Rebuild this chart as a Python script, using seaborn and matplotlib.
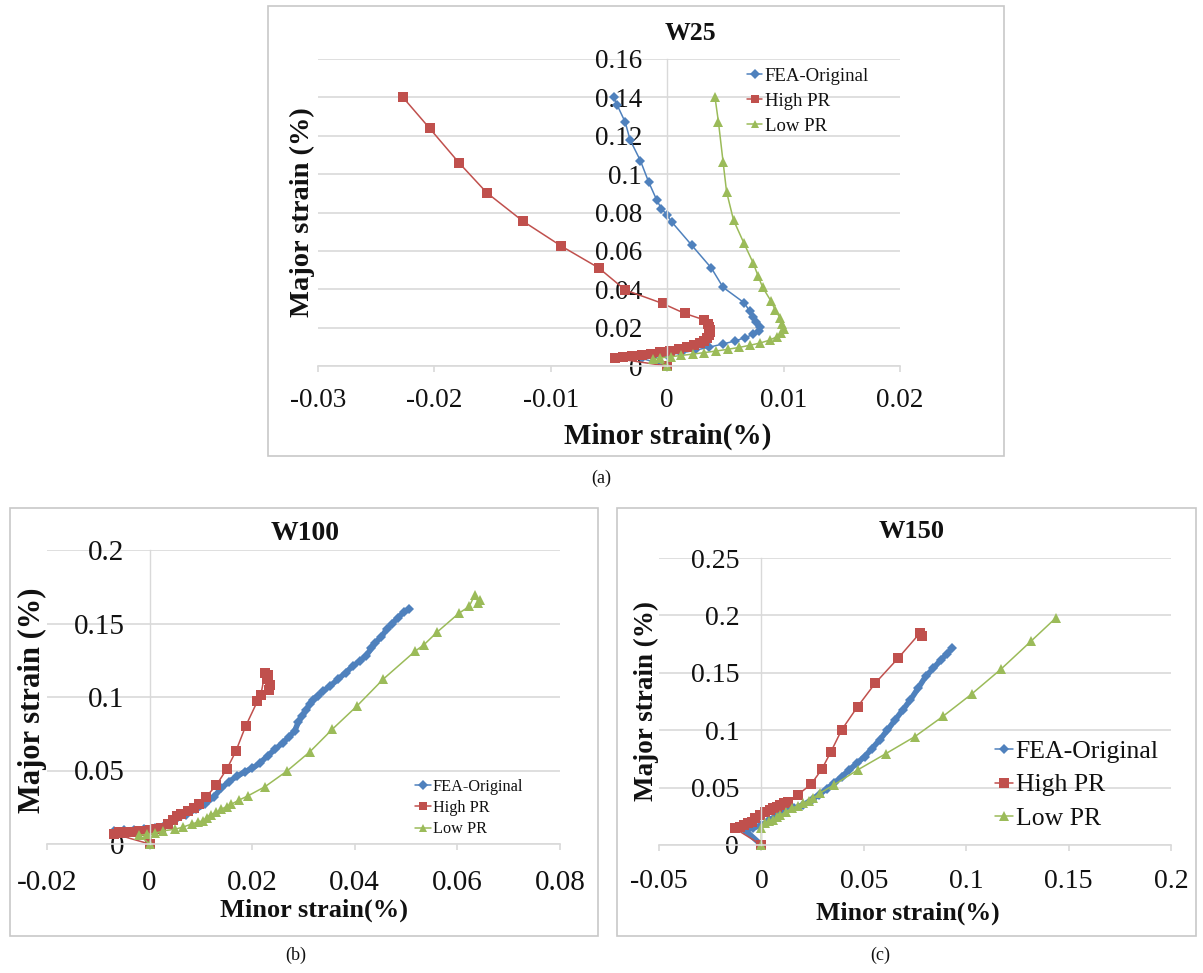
import numpy as np
import pandas as pd
import matplotlib
matplotlib.use("Agg")
import matplotlib.pyplot as plt
from matplotlib.patches import Rectangle
import seaborn as sns

# ---------------- data ----------------
series_names = ["FEA-Original", "High PR", "Low PR"]

# Panel (a) W25
a_fea_x = [0, -0.0022, -0.0012, 0.0, 0.0012, 0.0024, 0.0036, 0.0048, 0.0058, 0.0067, 0.0074, 0.0079, 0.0080,
           0.0076, 0.0074, 0.0071, 0.0066, 0.0048, 0.0038, 0.0021, 0.0004, 0.0, -0.0005, -0.0009, -0.0016,
           -0.0023, -0.0032, -0.0036, -0.0043, -0.0046]
a_fea_y = [0, 0.0040, 0.0048, 0.0058, 0.0068, 0.0082, 0.0098, 0.0115, 0.0130, 0.0148, 0.0165, 0.0185, 0.0205,
           0.0228, 0.0255, 0.0285, 0.0330, 0.0410, 0.0510, 0.0630, 0.0750, 0.0787, 0.0820, 0.0865, 0.0960,
           0.1070, 0.1180, 0.1270, 0.1360, 0.1400]
a_high_x = [0, -0.0045, -0.0038, -0.0030, -0.0022, -0.0014, -0.0006, 0.0002, 0.0010, 0.0017, 0.0023, 0.0028,
            0.0032, 0.0034, 0.0036, 0.0037, 0.0037, 0.0036, 0.0035, 0.0032, 0.0015, -0.0004, -0.0036, -0.0059,
            -0.0091, -0.0124, -0.0155, -0.0179, -0.0204, -0.0227]
a_high_y = [0, 0.0040, 0.0045, 0.0052, 0.0058, 0.0065, 0.0072, 0.0080, 0.0088, 0.0097, 0.0107, 0.0118,
            0.0130, 0.0145, 0.0160, 0.0175, 0.0190, 0.0205, 0.0220, 0.0240, 0.0274, 0.0326, 0.0396, 0.0512,
            0.0625, 0.0755, 0.0903, 0.1060, 0.1238, 0.1400]
a_low_x = [0, -0.0012, -0.0006, 0.0003, 0.0012, 0.0022, 0.0032, 0.0042, 0.0052, 0.0062, 0.0071, 0.0080,
           0.0088, 0.0094, 0.0098, 0.0100, 0.0099, 0.0097, 0.0093, 0.0089, 0.0082, 0.0078, 0.0074, 0.0066,
           0.0057, 0.0051, 0.0048, 0.0044, 0.0041]
a_low_y = [0, 0.0035, 0.0042, 0.0048, 0.0055, 0.0062, 0.0070, 0.0078, 0.0087, 0.0097, 0.0108, 0.0120,
           0.0135, 0.0152, 0.0172, 0.0195, 0.0220, 0.0250, 0.0290, 0.0340, 0.0410, 0.0470, 0.0535, 0.0639,
           0.0760, 0.0908, 0.1064, 0.1273, 0.1403]

# Panel (b) W100
b_fea_x = [-0.0070, -0.0050, -0.0030, -0.0010, 0.0010, 0.0030, 0.0050, 0.0070, 0.0090, 0.0108, 0.0125,
           0.0140, 0.0155, 0.0170, 0.0185, 0.0200, 0.0215, 0.0230, 0.0245, 0.0260, 0.0272, 0.0283, 0.0290,
           0.0297, 0.0305, 0.0312, 0.0318, 0.0328, 0.0338, 0.0352, 0.0367, 0.0382, 0.0396, 0.0410, 0.0422,
           0.0432, 0.0440, 0.0452, 0.0462, 0.0473, 0.0484, 0.0495, 0.0506]
b_fea_y = [0.0090, 0.0095, 0.0098, 0.0100, 0.0110, 0.0130, 0.0165, 0.0200, 0.0235, 0.0270, 0.0320,
           0.0380, 0.0425, 0.0460, 0.0490, 0.0515, 0.0550, 0.0600, 0.0645, 0.0690, 0.0730, 0.0770, 0.0830,
           0.0870, 0.0910, 0.0950, 0.0980, 0.1010, 0.1040, 0.1075, 0.1120, 0.1165, 0.1210, 0.1245, 0.1280,
           0.1330, 0.1370, 0.1410, 0.1460, 0.1500, 0.1540, 0.1575, 0.1600]
b_high_x = [0, -0.0070, -0.0060, -0.0050, -0.0040, -0.0030, -0.0020, -0.0010, 0.0000, 0.0012, 0.0023,
            0.0035, 0.0045, 0.0053, 0.0062, 0.0075, 0.0086, 0.0097, 0.0110, 0.0130, 0.0151, 0.0168, 0.0187,
            0.0210, 0.0217, 0.0225, 0.0231, 0.0228, 0.0234, 0.0232]
b_high_y = [0, 0.0070, 0.0080, 0.0078, 0.0085, 0.0082, 0.0090, 0.0088, 0.0095, 0.0100, 0.0110,
            0.0135, 0.0160, 0.0190, 0.0205, 0.0226, 0.0245, 0.0270, 0.0320, 0.0400, 0.0513, 0.0630, 0.0800,
            0.0970, 0.1017, 0.1164, 0.1150, 0.1120, 0.1080, 0.1050]
b_low_x = [0, -0.0020, -0.0005, 0.0010, 0.0027, 0.0049, 0.0065, 0.0082, 0.0095, 0.0104, 0.0112, 0.0119,
           0.0130, 0.0140, 0.0150, 0.0159, 0.0175, 0.0192, 0.0225, 0.0268, 0.0312, 0.0356, 0.0404, 0.0455,
           0.0517, 0.0535, 0.0560, 0.0603, 0.0623, 0.0634, 0.0641, 0.0645]
b_low_y = [0, 0.0060, 0.0065, 0.0072, 0.0090, 0.0100, 0.0115, 0.0136, 0.0150, 0.0158, 0.0180, 0.0200,
           0.0215, 0.0237, 0.0255, 0.0270, 0.0300, 0.0328, 0.0390, 0.0497, 0.0626, 0.0780, 0.0938, 0.1120,
           0.1310, 0.1356, 0.1440, 0.1570, 0.1616, 0.1695, 0.1640, 0.1660]

# Panel (c) W150
c_fea_x = [0, -0.0080, -0.0040, 0.0000, 0.0037, 0.0075, 0.0112, 0.0160, 0.0205, 0.0245, 0.0280, 0.0318,
           0.0354, 0.0392, 0.0429, 0.0466, 0.0504, 0.0540, 0.0578, 0.0615, 0.0653, 0.0690, 0.0728, 0.0765,
           0.0802, 0.0840, 0.0877, 0.0905, 0.0933]
c_fea_y = [0, 0.0130, 0.0150, 0.0170, 0.0218, 0.0255, 0.0290, 0.0320, 0.0349, 0.0395, 0.0436, 0.0488,
           0.0538, 0.0595, 0.0654, 0.0712, 0.0770, 0.0840, 0.0916, 0.1000, 0.1090, 0.1175, 0.1265, 0.1365,
           0.1468, 0.1540, 0.1613, 0.1665, 0.1715]
c_high_x = [0, -0.0130, -0.0105, -0.0084, -0.0065, -0.0047, -0.0030, -0.0009, 0.0019, 0.0040, 0.0056,
            0.0075, 0.0093, 0.0110, 0.0130, 0.0177, 0.0243, 0.0295, 0.0340, 0.0392, 0.0470, 0.0556, 0.0668,
            0.0774, 0.0784]
c_high_y = [0, 0.0145, 0.0160, 0.0174, 0.0190, 0.0203, 0.0235, 0.0260, 0.0290, 0.0305, 0.0320,
            0.0335, 0.0349, 0.0365, 0.0378, 0.0436, 0.0530, 0.0660, 0.0814, 0.1003, 0.1206, 0.1410, 0.1628,
            0.1846, 0.1817]
c_low_x = [0, 0.0000, 0.0019, 0.0038, 0.0056, 0.0075, 0.0093, 0.0120, 0.0149, 0.0177, 0.0205, 0.0230,
           0.0252, 0.0284, 0.0354, 0.0470, 0.0606, 0.0750, 0.0886, 0.1026, 0.1170, 0.1315, 0.1437]
c_low_y = [0, 0.0150, 0.0190, 0.0205, 0.0218, 0.0240, 0.0260, 0.0290, 0.0320, 0.0342, 0.0363, 0.0385,
           0.0407, 0.0450, 0.0523, 0.0654, 0.0794, 0.0945, 0.1120, 0.1314, 0.1532, 0.1773, 0.1977]

a_xticks = [-0.03, -0.02, -0.01, 0, 0.01, 0.02]
a_xticklabels = ["-0.03", "-0.02", "-0.01", "0", "0.01", "0.02"]
a_yticks = [0, 0.02, 0.04, 0.06, 0.08, 0.10, 0.12, 0.14, 0.16]
a_yticklabels = ["0", "0.02", "0.04", "0.06", "0.08", "0.1", "0.12", "0.14", "0.16"]
b_xticks = [-0.02, 0, 0.02, 0.04, 0.06, 0.08]
b_xticklabels = ["-0.02", "0", "0.02", "0.04", "0.06", "0.08"]
b_yticks = [0, 0.05, 0.10, 0.15, 0.20]
b_yticklabels = ["0", "0.05", "0.1", "0.15", "0.2"]
c_xticks = [-0.05, 0, 0.05, 0.10, 0.15, 0.20]
c_xticklabels = ["-0.05", "0", "0.05", "0.1", "0.15", "0.2"]
c_yticks = [0, 0.05, 0.10, 0.15, 0.20, 0.25]
c_yticklabels = ["0", "0.05", "0.1", "0.15", "0.2", "0.25"]

titles = ["W25", "W100", "W150"]
captions = ["(a)", "(b)", "(c)"]
xlabel = "Minor strain(%)"
ylabel = "Major strain (%)"

# ---------------- style ----------------
sns.set_theme(style="white")
plt.rcParams["font.family"] = ["Liberation Serif", "DejaVu Serif"]
colors = ["#4F81BD", "#C0504D", "#9BBB59"]
markers = ["D", "s", "^"]
grid_c = "#D9D9D9"
text_c = "#111111"

W, H = 1203, 973
fig = plt.figure(figsize=(W / 100, H / 100), dpi=100)
fig.patch.set_facecolor("white")


def rect(x0, x1, ytop, ybot):
    return [x0 / W, 1 - ybot / H, (x1 - x0) / W, (ybot - ytop) / H]


def fx(px):
    return px / W


def fy(py):
    return 1 - py / H


def panel(ax_rect, data, xlim, xticks, xtl, ylim, yticks, ytl, tick_fs, ypad, xpad, msizes, lwidths):
    ax = fig.add_axes(ax_rect)
    ax.set_facecolor("none")
    for (xs, ys), name, col, mk, ms, lw in zip(data, series_names, colors, markers, msizes, lwidths):
        df = pd.DataFrame({"x": xs, "y": ys})
        sns.lineplot(data=df, x="x", y="y", ax=ax, sort=False, estimator=None, color=col,
                     marker=mk, markersize=ms, markeredgewidth=0, linewidth=lw,
                     label=name, clip_on=False)
    ax.set_xlim(*xlim)
    ax.set_ylim(*ylim)
    ax.set_xticks(xticks)
    ax.set_xticklabels(xtl)
    ax.set_yticks(yticks)
    ax.set_yticklabels(ytl)
    ax.set_xlabel("")
    ax.set_ylabel("")
    ax.set_axisbelow(True)
    ax.yaxis.grid(True, color=grid_c, linewidth=1.2)
    ax.xaxis.grid(False)
    for s in ["top", "right"]:
        ax.spines[s].set_visible(False)
    ax.spines["left"].set_position(("data", 0))
    ax.spines["left"].set_color(grid_c)
    ax.spines["left"].set_linewidth(1.0)
    ax.spines["bottom"].set_color(grid_c)
    ax.spines["bottom"].set_linewidth(1.2)
    ax.tick_params(axis="y", length=0, pad=ypad, labelsize=tick_fs, labelcolor=text_c)
    ax.tick_params(axis="x", length=4, width=1.2, color=grid_c, direction="out",
                   pad=xpad, labelsize=tick_fs, labelcolor=text_c, bottom=True)
    leg = ax.get_legend()
    if leg is not None:
        leg.remove()
    return ax


# ---- panel (a)
ax_a = panel(rect(318, 900, 59, 366),
             [(a_fea_x, a_fea_y), (a_high_x, a_high_y), (a_low_x, a_low_y)],
             (-0.03, 0.02), a_xticks, a_xticklabels, (0, 0.16), a_yticks, a_yticklabels,
             19.5, 18, 12, [5.2, 7.0, 7.0], [1.1, 1.1, 1.1])
# ---- panel (b)
ax_b = panel(rect(47, 560, 550, 844),
             [(b_fea_x, b_fea_y), (b_high_x, b_high_y), (b_low_x, b_low_y)],
             (-0.02, 0.08), b_xticks, b_xticklabels, (0, 0.2), b_yticks, b_yticklabels,
             21, 18, 15, [5.5, 7.5, 7.5], [4.0, 1.1, 1.1])
# ---- panel (c)
ax_c = panel(rect(659, 1171, 558, 845),
             [(c_fea_x, c_fea_y), (c_high_x, c_high_y), (c_low_x, c_low_y)],
             (-0.05, 0.20), c_xticks, c_xticklabels, (0, 0.25), c_yticks, c_yticklabels,
             20, 16, 13, [5.5, 7.5, 7.5], [4.0, 1.1, 1.1])


def add_legend(ax, x_px, ymid_px, fs, hl, htp, ls, ms_scale):
    handles, labels = ax.get_legend_handles_labels()
    leg = ax.legend(handles, labels, loc="center left", bbox_to_anchor=(fx(x_px), fy(ymid_px)),
                    bbox_transform=fig.transFigure, frameon=False, fontsize=fs,
                    handlelength=hl, handletextpad=htp, labelspacing=ls, borderpad=0,
                    borderaxespad=0, numpoints=1, markerscale=ms_scale)
    for t in leg.get_texts():
        t.set_color(text_c)
    for ln in leg.get_lines():
        ln.set_linewidth(1.1)
    return leg


add_legend(ax_a, 747, 101, 13.5, 0.8, 0.15, 0.42, 0.9)
add_legend(ax_b, 415, 808, 11.7, 1.0, 0.1, 0.32, 0.85)
add_legend(ax_c, 995, 785, 18.5, 0.7, 0.1, 0.42, 1.0)

# titles
fig.text(fx(690), fy(33), titles[0], ha="center", va="center", fontsize=18.5, fontweight="bold", color=text_c)
fig.text(fx(305), fy(533), titles[1], ha="center", va="center", fontsize=20, fontweight="bold", color=text_c)
fig.text(fx(912), fy(532), titles[2], ha="center", va="center", fontsize=19, fontweight="bold", color=text_c)

# axis labels
fig.text(fx(302), fy(212), ylabel, ha="center", va="center", rotation=90, fontsize=20.5, fontweight="bold", color=text_c)
fig.text(fx(668), fy(436), xlabel, ha="center", va="center", fontsize=21, fontweight="bold", color=text_c)
fig.text(fx(32), fy(700), ylabel, ha="center", va="center", rotation=90, fontsize=22, fontweight="bold", color=text_c)
fig.text(fx(314), fy(910), xlabel, ha="center", va="center", fontsize=19, fontweight="bold", color=text_c)
fig.text(fx(646), fy(701), ylabel, ha="center", va="center", rotation=90, fontsize=19.5, fontweight="bold", color=text_c)
fig.text(fx(908), fy(913), xlabel, ha="center", va="center", fontsize=18.5, fontweight="bold", color=text_c)

# captions
fig.text(fx(601), fy(478), captions[0], ha="center", va="center", fontsize=13, color=text_c)
fig.text(fx(296), fy(955), captions[1], ha="center", va="center", fontsize=13, color=text_c)
fig.text(fx(880), fy(955), captions[2], ha="center", va="center", fontsize=13, color=text_c)

# panel frames
box_c = "#C8C8C8"
for (x0, x1, y0, y1) in [(268, 1004, 6, 456), (10, 598, 508, 936), (617, 1196, 508, 936)]:
    fig.patches.append(Rectangle((fx(x0), fy(y1)), (x1 - x0) / W, (y1 - y0) / H,
                                 transform=fig.transFigure, fill=False, edgecolor=box_c, linewidth=1.2))

fig.savefig("out.png", dpi=100)
